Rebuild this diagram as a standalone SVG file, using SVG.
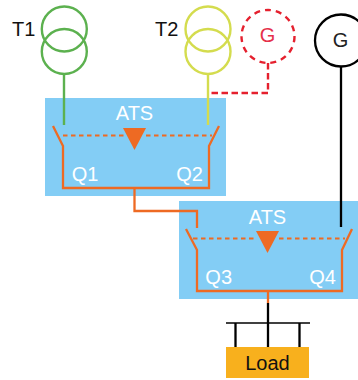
<svg xmlns="http://www.w3.org/2000/svg" width="358" height="380" viewBox="0 0 358 380">
<style>
.t{font-family:"Liberation Sans",Arial,sans-serif;font-size:20px}
.w{fill:#fff;text-anchor:middle}
.box{fill:#83cdf5}
.c{fill:none;stroke-width:2.400}
.o{fill:none;stroke:#ee6a23;stroke-width:2.300}
.od{fill:none;stroke:#ee6a23;stroke-width:2;stroke-dasharray:4.500 3.500}
.k{fill:none;stroke:#000;stroke-width:2.300}
.tri{fill:#ee6a23}
</style>
<g id="ats1"><rect class="box" x="45" y="98" width="181" height="98"/>
<text class="t w" x="134.500" y="120">ATS</text><text class="t w" x="85" y="181">Q1</text><text class="t w" x="189.500" y="181">Q2</text></g>
<g id="ats2"><rect class="box" x="179" y="201" width="179" height="98"/>
<text class="t w" x="267.500" y="224">ATS</text><text class="t w" x="218.700" y="284">Q3</text><text class="t w" x="322.500" y="284">Q4</text></g>
<g id="t1"><circle class="c" stroke="#5cb14f" cx="64.300" cy="29" r="22.500"/><circle class="c" stroke="#5cb14f" cx="64.300" cy="51.500" r="22.500"/>
<text class="t" x="12" y="35.500" fill="#111">T1</text></g>
<g id="t2"><circle class="c" stroke="#d4dc4e" cx="208" cy="29" r="22.500"/><circle class="c" stroke="#d4dc4e" cx="208" cy="51.500" r="22.500"/>
<text class="t" x="155" y="35.500" fill="#111">T2</text></g>
<g id="g-red"><circle cx="268" cy="36.500" r="26.500" fill="none" stroke="#e5202e" stroke-width="2.400" stroke-dasharray="6 5"/>
<text class="t" x="267.500" y="42" text-anchor="middle" fill="#e5304a">G</text></g>
<g id="g-black"><circle class="k" cx="341" cy="40.500" r="26"/>
<text class="t" x="340.500" y="46.500" text-anchor="middle" fill="#222">G</text></g>
<g id="load"><rect x="226" y="347" width="83" height="31" fill="#f8b01d"/>
<text class="t" x="267.500" y="370" text-anchor="middle" fill="#111">Load</text></g>
<g id="connectors">
<path d="M64 74V125" fill="none" stroke="#5cb14f" stroke-width="2.400"/>
<path d="M208 74V125" fill="none" stroke="#d4dc4e" stroke-width="2.400"/>
<path d="M268 63V93H208" fill="none" stroke="#e5202e" stroke-width="2.400" stroke-dasharray="6.500 3.500"/>
<path class="k" d="M341 67V227"/>
<path class="o" d="M53 126L63 146V188H209V146L219 126"/>
<path class="od" d="M63 135.500H125M146 135.500H212"/>
<path class="tri" d="M123 128H146L134.500 150Z"/>
<path class="o" d="M134.500 188V211H197V228"/>
<path class="o" d="M186 229L197 250V291H342V250L352 229"/>
<path class="od" d="M193 238.500H257M279 238.500H345"/>
<path class="tri" d="M256 231H279L267.500 253Z"/>
<path class="o" d="M268 291V303"/>
<path class="k" d="M268 303V347"/>
<path d="M226 323H310" fill="none" stroke="#000" stroke-width="1.500"/>
<path class="k" d="M235.500 323V347M299.500 323V347"/>
</g>
</svg>
